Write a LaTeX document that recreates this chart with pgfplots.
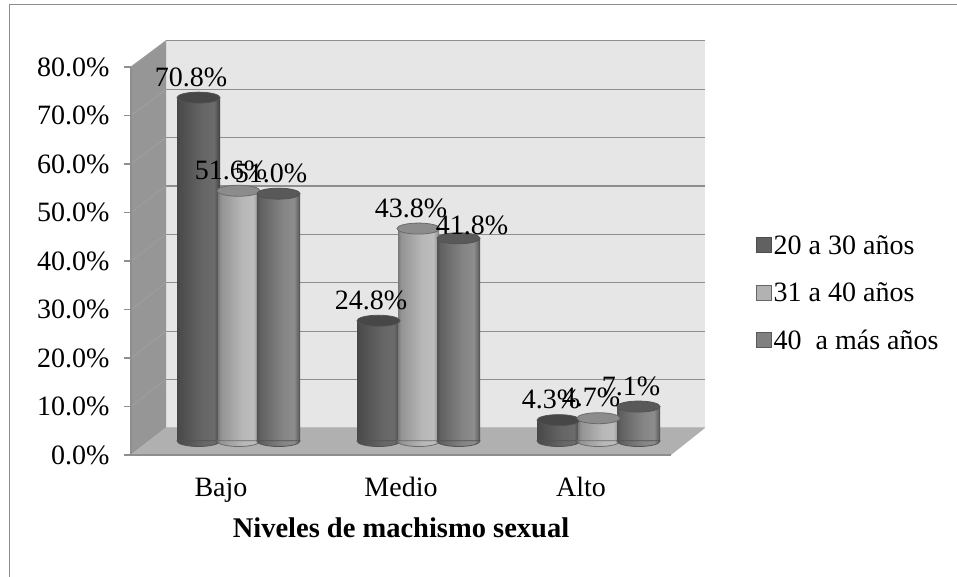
\documentclass[border=0pt]{standalone}
\usepackage{pgfplots}
\pgfplotsset{compat=1.18}
\usepackage{fontspec}
\setmainfont{Liberation Serif}
\definecolor{wall}{HTML}{E6E6E6}
\definecolor{side}{HTML}{969696}
\definecolor{floorc}{HTML}{B0B0B0}
\definecolor{gridc}{HTML}{8E8E8E}
\pgfdeclarehorizontalshading{cylA}{100bp}{color(0bp)=(black!75);color(25bp)=(black!72);color(29bp)=(black!70);color(55bp)=(black!60);color(68bp)=(black!58);color(73bp)=(black!70);color(75bp)=(black!76);color(100bp)=(black!76)}
\pgfdeclarehorizontalshading{cylB}{100bp}{color(0bp)=(black!55);color(25bp)=(black!52);color(29bp)=(black!42);color(55bp)=(black!28);color(68bp)=(black!26);color(73bp)=(black!40);color(75bp)=(black!55);color(100bp)=(black!55)}
\pgfdeclarehorizontalshading{cylC}{100bp}{color(0bp)=(black!72);color(25bp)=(black!68);color(29bp)=(black!62);color(55bp)=(black!48);color(68bp)=(black!45);color(73bp)=(black!60);color(75bp)=(black!72);color(100bp)=(black!72)}
\newcommand{\ellpath}{\pgfpathellipse{\pgfpointorigin}{\pgfqpoint{21.5pt}{0pt}}{\pgfqpoint{0pt}{5.5pt}}}
\newcommand{\halfpath}{\pgfpathmoveto{\pgfqpoint{-21.5pt}{0.3pt}}\pgfpathlineto{\pgfqpoint{-21.5pt}{0pt}}\pgfpatharc{180}{360}{21.5pt and 5.5pt}\pgfpathlineto{\pgfqpoint{21.5pt}{0.3pt}}\pgfpathclose}
\pgfdeclareplotmark{baseA}{\halfpath\pgfshadepath{cylA}{0}\pgfusepathqstroke}
\pgfdeclareplotmark{baseB}{\halfpath\pgfshadepath{cylB}{0}\pgfusepathqstroke}
\pgfdeclareplotmark{baseC}{\halfpath\pgfshadepath{cylC}{0}\pgfusepathqstroke}
\pgfdeclareplotmark{cap}{\ellpath\pgfusepathqfillstroke}
% one cylinder: #1 x, #2 value, #3 shading, #4 width, #5 outline, #6 cap colour, #7 label shift
\newcommand{\cyl}[7]{%
  \addplot[forget plot,only marks,mark=base#3,mark options={draw=#5,line width=0.8pt},nodes near coords={}] coordinates {(#1,0)};
  \addplot[forget plot,ybar,bar width=#4,bar shift=0pt,draw=none,shade,shading=cyl#3,nodes near coords={}] coordinates {(#1,#2)};
  \addplot[forget plot,only marks,mark=cap,mark options={draw=#5,fill=#6,line width=0.8pt},every node near coord/.append style={#7}] coordinates {(#1,#2)};
}
\begin{document}
\begin{tikzpicture}
\path[use as bounding box] (0pt,0pt) rectangle (957pt,577pt);
\fill[white] (0pt,0pt) rectangle (957pt,577pt);
% outer frame
\draw[color=black!45,line width=1pt] (9pt,0pt) -- (9pt,572pt) -- (957pt,572pt);
% walls
\fill[wall] (166pt,149pt) rectangle (705pt,536pt);
\fill[side] (131pt,122pt) -- (166pt,149pt) -- (166pt,536pt) -- (131pt,510pt) -- cycle;
\fill[floorc] (131pt,122pt) -- (166pt,149pt) -- (705pt,149pt) -- (671pt,122pt) -- cycle;
\foreach \k in {1,...,8}{
  \draw[gridc,line width=1.3pt] (166pt,149pt+\k*48.4pt) -- (705pt,149pt+\k*48.4pt);
  \draw[color=black!38,line width=1pt] (131pt,122pt+\k*48.5pt) -- (166pt,149pt+\k*48.4pt);
}
\draw[color=black!25,line width=1pt] (166pt,149pt) -- (705pt,149pt);
\draw[color=black!30,line width=1pt] (131pt,122pt) -- (166pt,149pt);
\begin{axis}[
  at={(131pt,122pt)},anchor=south west,
  scale only axis,width=540pt,height=388pt,
  xmin=-0.5,xmax=2.5,ymin=0,ymax=80,
  axis x line*=bottom,axis y line*=left,
  axis line style={gridc,line width=1.3pt,-},
  xtick={0,1,2},xticklabels={Bajo,Medio,Alto},
  ytick={0,10,...,80},
  x tick style={draw=none},
  y tick style={gridc,line width=1.2pt},
  tick align=outside,major tick length=7pt,
  tick label style={font=\fontsize{28}{30}\selectfont},
  yticklabel style={xshift=-11pt,/pgf/number format/.cd,fixed,fixed zerofill,precision=1,assume math mode=true},
  yticklabel={\pgfmathprintnumber{\tick}\%},
  xticklabel style={yshift=-12pt},
  xlabel={\textbf{Niveles de machismo sexual}},
  xlabel style={font=\fontsize{28.5}{30}\selectfont,yshift=-9pt},
  clip=false,
]
\end{axis}
\begin{axis}[
  at={(148.5pt,136pt)},anchor=south west,
  scale only axis,width=540pt,height=388pt,
  xmin=-0.5,xmax=2.5,ymin=0,ymax=80,
  hide axis,clip=false,
  legend style={at={(604pt,148pt)},anchor=west,draw=none,fill=none,
    font=\fontsize{28}{30}\selectfont,row sep=23pt,cells={anchor=west},
    /tikz/every even column/.append style={column sep=11pt}},
  legend cell align=left,
  point meta=y,
  nodes near coords={\pgfmathprintnumber[fixed,fixed zerofill,precision=1,assume math mode=true]{\pgfplotspointmeta}\%},
  every node near coord/.style={anchor=base,xshift=-7.5pt,yshift=11.5pt,text=black,font=\fontsize{28}{30}\selectfont},
]
\addlegendimage{legend image code/.code={\draw[draw=black!70,fill=black!62,line width=1pt] (0pt,-7.5pt) rectangle (15pt,7.5pt);}}
\addlegendentry{20 a 30 años}
\addlegendimage{legend image code/.code={\draw[draw=black!60,fill=black!30,line width=1pt] (0pt,-7.5pt) rectangle (15pt,7.5pt);}}
\addlegendentry{31 a 40 años}
\addlegendimage{legend image code/.code={\draw[draw=black!65,fill=black!50,line width=1pt] (0pt,-7.5pt) rectangle (15pt,7.5pt);}}
\addlegendentry{40~ a más años}
\cyl{-0.2222}{70.8}{A}{43pt}{black!68}{black!72}{}
\cyl{0}{51.6}{B}{41pt}{black!58}{black!45}{}
\cyl{0.2222}{51.0}{C}{43pt}{black!68}{black!65}{}
\cyl{0.7778}{24.8}{A}{43pt}{black!68}{black!72}{}
\cyl{1}{43.8}{B}{41pt}{black!58}{black!45}{}
\cyl{1.2222}{41.8}{C}{43pt}{black!68}{black!65}{xshift=21pt,yshift=-8pt}
\cyl{1.7778}{4.3}{A}{43pt}{black!68}{black!72}{}
\cyl{2}{4.7}{B}{41pt}{black!58}{black!45}{}
\cyl{2.2222}{7.1}{C}{43pt}{black!68}{black!65}{}
\end{axis}
\end{tikzpicture}
\end{document}
